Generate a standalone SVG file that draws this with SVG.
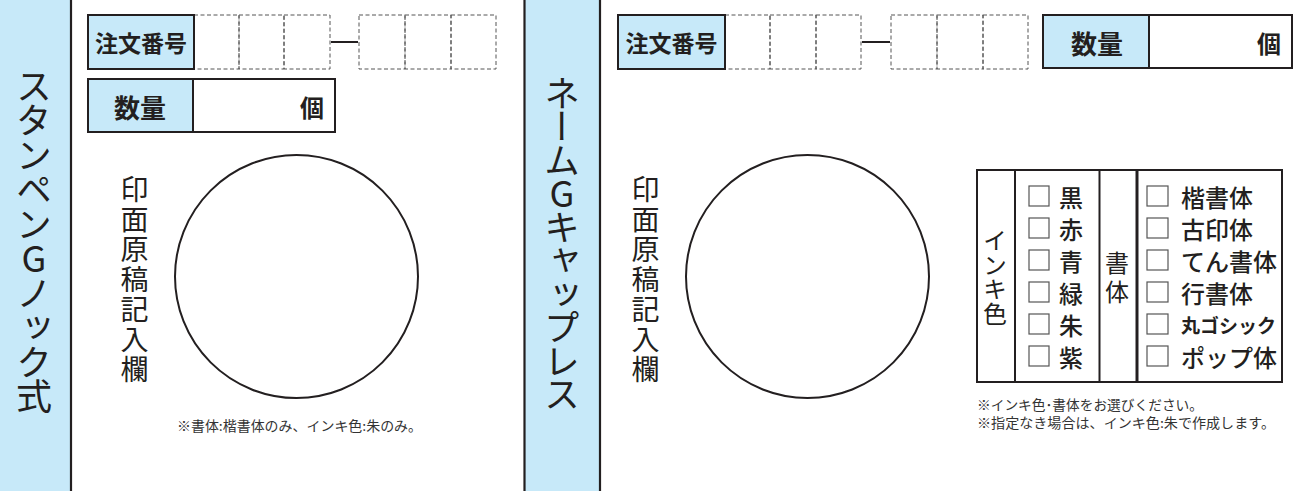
<svg xmlns="http://www.w3.org/2000/svg" width="1315" height="491" viewBox="0 0 1315 491">
<style>
text{font-family:"Noto Sans CJK JP","Noto Sans",sans-serif;fill:#231f20}
.band{fill:#c7e9f9}
.vline{stroke:#231f20;stroke-width:2.2}
.lab{fill:#c7e9f9;stroke:#231f20;stroke-width:2}
.box{fill:#fff;stroke:#231f20;stroke-width:2}
.dash{fill:none;stroke:#555;stroke-width:1;stroke-dasharray:4 2.5}
.circ{fill:#fff;stroke:#231f20;stroke-width:2}
.vt{writing-mode:vertical-rl;text-orientation:upright}
.title{font-size:36px;font-weight:400}
.stamp{font-size:28px;font-weight:400;letter-spacing:2px}
.hd{font-weight:700;dominant-baseline:central}
.cb{fill:#fff;stroke:#555;stroke-width:1.2}
.opt{font-size:24px;font-weight:500;dominant-baseline:central}
.note{font-size:13.5px;fill:#333;dominant-baseline:central}
.tl{fill:none;stroke:#231f20;stroke-width:2}
</style>
<g id="band-left">
  <rect class="band" x="0" y="0" width="71" height="491"/>
  <line class="vline" x1="71" y1="0" x2="71" y2="491"/>
  <text class="vt title" x="34" y="68" style="letter-spacing:-1.5px">スタンペンGノック式</text>
</g>
<g id="band-right">
  <rect class="band" x="524.5" y="0" width="75.5" height="491"/>
  <line class="vline" x1="524.5" y1="0" x2="524.5" y2="491"/>
  <line class="vline" x1="600" y1="0" x2="600" y2="491"/>
  <text class="vt title" x="562" y="75" style="letter-spacing:-2.5px">ネームGキャップレス</text>
</g>
<g id="order-left">
  <rect class="dash" x="194" y="15" width="45" height="54"/>
  <rect class="dash" x="239" y="15" width="45" height="54"/>
  <rect class="dash" x="284" y="15" width="46" height="54"/>
  <line class="tl" x1="331" y1="42" x2="358" y2="42"/>
  <rect class="dash" x="359" y="15" width="46" height="54"/>
  <rect class="dash" x="405" y="15" width="46" height="54"/>
  <rect class="dash" x="451" y="15" width="45" height="54"/>
  <rect class="lab" x="88" y="15" width="106" height="54"/>
  <text class="hd" x="141" y="42" text-anchor="middle" font-size="23">注文番号</text>
</g>
<g id="qty-left">
  <rect class="box" x="88" y="79" width="247" height="53"/>
  <rect class="lab" x="88" y="79" width="105" height="53"/>
  <text class="hd" x="140" y="106" text-anchor="middle" font-size="26">数量</text>
  <text class="hd" x="324" y="106" text-anchor="end" font-size="24">個</text>
</g>
<g id="stamp-left">
  <text class="vt stamp" x="134.5" y="175">印面原稿記入欄</text>
  <circle class="circ" cx="296.5" cy="276.5" r="121.5"/>
  <text class="note" x="177" y="425" textLength="245" lengthAdjust="spacingAndGlyphs">※書体:楷書体のみ、インキ色:朱のみ。</text>
</g>
<g id="order-right">
  <rect class="dash" x="725" y="15" width="45" height="54"/>
  <rect class="dash" x="770" y="15" width="46" height="54"/>
  <rect class="dash" x="816" y="15" width="45" height="54"/>
  <line class="tl" x1="862" y1="42" x2="890" y2="42"/>
  <rect class="dash" x="891" y="15" width="46" height="54"/>
  <rect class="dash" x="937" y="15" width="46" height="54"/>
  <rect class="dash" x="983" y="15" width="45" height="54"/>
  <rect class="lab" x="618" y="15" width="107" height="54"/>
  <text class="hd" x="671.5" y="42" text-anchor="middle" font-size="23">注文番号</text>
</g>
<g id="qty-right">
  <rect class="box" x="1043" y="15" width="249" height="53"/>
  <rect class="lab" x="1043" y="15" width="106" height="53"/>
  <text class="hd" x="1097" y="42" text-anchor="middle" font-size="26">数量</text>
  <text class="hd" x="1281" y="42" text-anchor="end" font-size="24">個</text>
</g>
<g id="stamp-right">
  <text class="vt stamp" x="645.5" y="175">印面原稿記入欄</text>
  <circle class="circ" cx="807.5" cy="276.5" r="121.5"/>
</g>
<g id="options-table">
  <rect class="tl" x="977" y="170" width="305" height="212"/>
  <line class="tl" x1="1015" y1="170" x2="1015" y2="382"/>
  <line class="tl" x1="1099.5" y1="170" x2="1099.5" y2="382"/>
  <line class="tl" x1="1137" y1="170" x2="1137" y2="382" style="stroke-width:3"/>
  <text class="vt" x="995" y="228" style="font-size:24px;letter-spacing:0.5px">インキ色</text>
  <text class="vt" x="1117" y="251" style="font-size:24px;letter-spacing:5px">書体</text>
  <g id="ink-options">
    <rect class="cb" x="1029" y="186" width="20" height="20"/><text class="opt" x="1059" y="196">黒</text>
    <rect class="cb" x="1029" y="218" width="20" height="20"/><text class="opt" x="1059" y="228">赤</text>
    <rect class="cb" x="1029" y="250" width="20" height="20"/><text class="opt" x="1059" y="260">青</text>
    <rect class="cb" x="1029" y="282" width="20" height="20"/><text class="opt" x="1059" y="292">緑</text>
    <rect class="cb" x="1029" y="314" width="20" height="20"/><text class="opt" x="1059" y="324">朱</text>
    <rect class="cb" x="1029" y="346" width="20" height="20"/><text class="opt" x="1059" y="356">紫</text>
  </g>
  <g id="font-options">
    <rect class="cb" x="1147" y="186" width="21" height="20"/><text class="opt" x="1181" y="196">楷書体</text>
    <rect class="cb" x="1147" y="218" width="21" height="20"/><text class="opt" x="1181" y="228">古印体</text>
    <rect class="cb" x="1147" y="250" width="21" height="20"/><text class="opt" x="1181" y="260">てん書体</text>
    <rect class="cb" x="1147" y="282" width="21" height="20"/><text class="opt" x="1181" y="292">行書体</text>
    <rect class="cb" x="1147" y="314" width="21" height="20"/><text class="opt" x="1181" y="324" style="font-size:19px;font-weight:700">丸ゴシック</text>
    <rect class="cb" x="1147" y="346" width="21" height="20"/><text class="opt" x="1181" y="356">ポップ体</text>
  </g>
</g>
<g id="notes-right">
  <text class="note" x="977" y="404" textLength="226" lengthAdjust="spacingAndGlyphs">※インキ色･書体をお選びください。</text>
  <text class="note" x="977" y="422" textLength="298" lengthAdjust="spacingAndGlyphs">※指定なき場合は、インキ色:朱で作成します。</text>
</g>
</svg>
